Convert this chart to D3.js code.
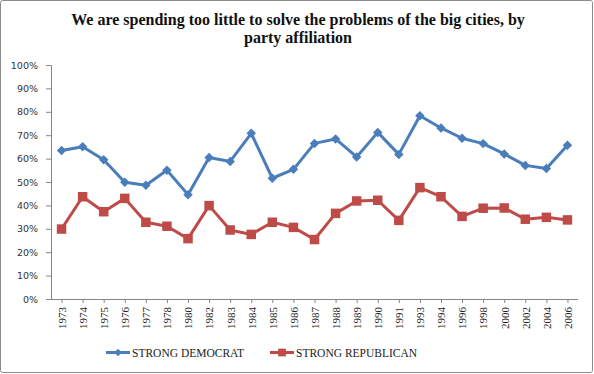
<!DOCTYPE html>
<html><head><meta charset="utf-8">
<script src="https://cdn.jsdelivr.net/npm/d3@7"></script>
<style>body{margin:0;background:#fff}svg{display:block}</style>
</head><body>
<svg id="c" width="594" height="374"></svg>
<script>
const years = ["1973","1974","1975","1976","1977","1978","1980","1982","1983","1984","1985","1986","1987","1988","1989","1990","1991","1993","1994","1996","1998","2000","2002","2004","2006"];
const democrat = [63.5,65.1,59.5,49.9,48.6,55.0,44.6,60.5,58.8,70.8,51.6,55.4,66.5,68.4,60.7,71.2,61.8,78.3,73.1,68.7,66.4,62.0,57.1,55.8,65.7];
const republican = [29.9,43.7,37.3,43.0,32.8,31.1,25.8,39.9,29.5,27.6,32.8,30.6,25.4,36.6,41.9,42.2,33.6,47.6,43.7,35.3,38.8,38.9,34.1,34.9,33.8];
const yTicks = [0,10,20,30,40,50,60,70,80,90,100];
const titleLines = ["We are spending too little to solve the problems of the big cities, by","party affiliation"];
const seriesNames = ["STRONG DEMOCRAT","STRONG REPUBLICAN"];
const colors = ["#4A7EBB","#BE4B48"];

const svg = d3.select("#c");
svg.append("rect").attr("x",0.5).attr("y",0.5).attr("width",592).attr("height",372)
  .attr("fill","#fff").attr("stroke","#8c8c8c").attr("rx",2);

const L=51, R=578, T=65, B=299;
const x = d3.scalePoint().domain(years).range([L,R]).padding(0.5);
const y = d3.scaleLinear().domain([0,100]).range([B,T]);

// title
const tt = svg.append("text").attr("text-anchor","middle")
  .style("font-family","'Liberation Serif', serif").style("font-weight","bold").style("font-size","16px").attr("fill","#111");
titleLines.forEach((t,i)=>tt.append("tspan").attr("x",298).attr("y",25+i*17.5).text(t));

// y axis
const ya = svg.append("g").attr("transform",`translate(${L},0)`)
  .call(d3.axisLeft(y).tickValues(yTicks).tickFormat(d=>d+"%").tickSize(5).tickPadding(8));
ya.select(".domain").attr("stroke","#868686");
ya.selectAll(".tick line").attr("stroke","#868686");
ya.selectAll("text").style("font-family","'DejaVu Sans', sans-serif").style("font-size","9.5px").attr("fill","#333");

// x axis
const xa = svg.append("g").attr("transform",`translate(0,${B})`)
  .call(d3.axisBottom(x).tickSize(4).tickSizeOuter(0).tickPadding(6));
xa.select(".domain").attr("stroke","#868686").attr("d",`M${L},0.5H${R}`);
xa.selectAll(".tick line").attr("stroke","#868686");
xa.selectAll("text").attr("transform","rotate(-90)").attr("text-anchor","end")
  .attr("x",-8).attr("y",0).attr("dy","0.35em")
  .style("font-family","'Liberation Serif', serif").style("font-size","11px").attr("fill","#222");

const line = d3.line().x((d,i)=>x(years[i])).y(d=>y(d));
[democrat,republican].forEach((s,k)=>{
  svg.append("path").datum(s).attr("d",line).attr("fill","none")
    .attr("stroke",colors[k]).attr("stroke-width",3).attr("stroke-linejoin","round");
});
[democrat,republican].forEach((s,k)=>{
  svg.append("g").selectAll("path").data(s).join("path")
    .attr("d",d3.symbol().type(d3.symbolSquare).size(k===0?45:90)())
    .attr("transform",(d,i)=>`translate(${x(years[i])},${y(d)})${k===0?" rotate(45)":""}`)
    .attr("fill",colors[k]);
});

// legend
const lg = [{x0:106,x1:130,tx:132},{x0:270,x1:294,tx:296}];
lg.forEach((g,k)=>{
  svg.append("line").attr("x1",g.x0).attr("x2",g.x1).attr("y1",352.5).attr("y2",352.5)
    .attr("stroke",colors[k]).attr("stroke-width",3);
  svg.append("path").attr("d",d3.symbol().type(d3.symbolSquare).size(k===0?30:60)())
    .attr("transform",`translate(${(g.x0+g.x1)/2},352.5)${k===0?" rotate(45)":""}`).attr("fill",colors[k]);
  svg.append("text").attr("x",g.tx).attr("y",356.5).text(seriesNames[k])
    .style("font-family","'Liberation Serif', serif").style("font-size","11.5px").attr("fill","#222");
});
</script>
</body></html>
